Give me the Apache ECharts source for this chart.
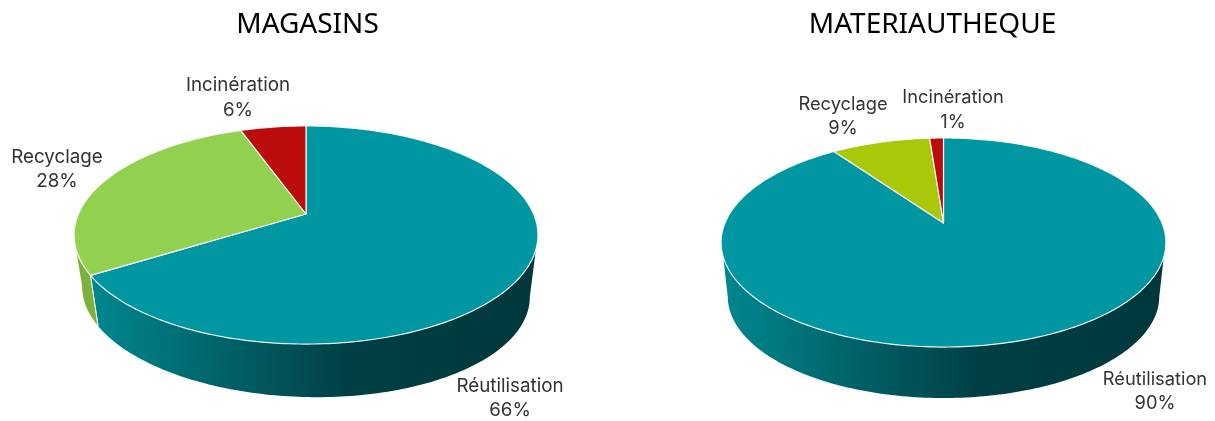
<!DOCTYPE html>
<html>
<head>
<meta charset="utf-8">
<script src="https://cdn.jsdelivr.net/npm/echarts@6/dist/echarts.min.js"></script>
<style>html,body{margin:0;padding:0;background:#fff}#c{width:1215px;height:421px}</style>
</head>
<body>
<div id="c"></div>
<script>
// ---- data ----
const categories = ['Réutilisation', 'Recyclage', 'Incinération'];
const magasinsValues = [66.2, 28.3, 5.5];
const materiauthequeValues = [90.2, 8.6, 1.2];
const pieTitles = ['MAGASINS', 'MATERIAUTHEQUE'];

// ---- styles ----
const magasinsColors = ['#0097A2', '#92D050', '#BC0D0D'];
const materiauthequeColors = ['#0097A2', '#AAC80A', '#BC0D0D'];
const magasinsSides = ['teal', '#7DB03C', '#8C0A0A'];
const materiauthequeSides = ['teal', '#7F9608', '#8C0A0A'];
const TEAL_SIDE = {type:'linear',x:0,y:0,x2:1,y2:0,global:false,colorStops:[
  {offset:0,color:'#00878F'},{offset:0.58,color:'#003F44'},{offset:1,color:'#00383C'}]};

// ---- layout: perspective of each disc ----
const magasinsView = {x0:306, y0:214, r:227.6, a:105, k:0.1927, cyTop:235, cyBot:291.8, s:0.965, skew:0.022, font:18.8};
const materiauthequeView = {x0:943.5, y0:223, r:218.5, a:100.9, k:0.1866, cyTop:242.5, cyBot:296.6, s:0.97, skew:0, font:18.3};
const magasinsLabelAt = [[510,398.5],[57,169.5],[238,98]];
const materiauthequeLabelAt = [[1155,391.5],[843,116.5],[953,110]];
const SIDE_FROM = 108.5, SIDE_TO = 251.5, WIDE_FROM = 101, WIDE_TO = 259;

function rim(v, deg){
  const t = deg*Math.PI/180, cx = Math.sin(t), cy = -Math.cos(t), d = 1 - v.k*cy;
  return [v.x0 + v.r*cx/d, v.y0 + v.a*cy/d];
}
function low(v, p){
  return [v.x0 + v.s*(p[0]-v.x0), v.cyBot + v.s*(p[1]-v.cyTop) + v.skew*(p[0]-v.x0)];
}
function arc(v, a, b){
  const pts = [], n = Math.max(2, Math.ceil(Math.abs(b-a)));
  for(let i=0;i<=n;i++) pts.push(rim(v, a+(b-a)*i/n));
  return pts;
}
function pieSeries(values, colors, sides, view, labelAt){
  const total = values.reduce((s,x)=>s+x,0);
  return {
    type:'custom', coordinateSystem:'none', silent:true, clip:false,
    data: values.map((x,i)=>({name:categories[i], value:[x]})),
    renderItem(params, api){
      const i = params.dataIndex;
      const before = values.slice(0,i).reduce((s,x)=>s+x,0);
      const a = before/total*360, b = (before+api.value(0))/total*360;
      const kids = [];
      const from = Math.max(a,SIDE_FROM), to = Math.min(b,SIDE_TO);
      if(to>from){
        const top = arc(view,from,to);
        const lowFrom = a<=SIDE_FROM ? WIDE_FROM : from;
        const lowTo = b>=SIDE_TO ? WIDE_TO : to;
        const bottom = arc(view,lowFrom,lowTo).map(p=>low(view,p)).reverse();
        kids.push({type:'polygon', z2:1, shape:{points:top.concat(bottom)},
          style:{fill: sides[i]==='teal' ? TEAL_SIDE : sides[i]}});
        [a,b].forEach(e=>{
          if(e>=SIDE_FROM && e<=SIDE_TO){
            const p = rim(view,e), q = low(view,p);
            kids.push({type:'line', z2:2, shape:{x1:p[0],y1:p[1],x2:q[0],y2:q[1]},
              style:{stroke:'rgba(255,255,255,0.75)',lineWidth:1}});
          }
        });
      }
      kids.push({type:'polygon', z2:3, shape:{points:[[view.x0,view.y0]].concat(arc(view,a,b))},
        style:{fill:colors[i], stroke:'rgba(255,255,255,0.9)', lineWidth:1.2, lineJoin:'round'}});
      kids.push({type:'text', z2:4, style:{
        text: categories[i]+'\n'+Math.round(api.value(0))+'%',
        x:labelAt[i][0], y:labelAt[i][1], align:'center', verticalAlign:'middle',
        textAlign:'center', textVerticalAlign:'middle',
        fontFamily:'Inter', fontSize:view.font, lineHeight:24.5, fill:'#333333'}});
      return {type:'group', children:kids};
    }
  };
}
const chart = echarts.init(document.getElementById('c'), null, {renderer:'canvas'});
chart.setOption({
  animation:false,
  backgroundColor:'#ffffff',
  title:[
    {text:pieTitles[0], left:302.5, top:6, textAlign:'center',
     textStyle:{fontFamily:'Noto Sans', fontSize:28, fontWeight:'normal', color:'#000'}},
    {text:pieTitles[1], left:927.5, top:6, textAlign:'center',
     textStyle:{fontFamily:'Noto Sans', fontSize:28, fontWeight:'normal', color:'#000'}}
  ],
  series:[
    pieSeries(magasinsValues, magasinsColors, magasinsSides, magasinsView, magasinsLabelAt),
    pieSeries(materiauthequeValues, materiauthequeColors, materiauthequeSides, materiauthequeView, materiauthequeLabelAt)
  ]
});
</script>
</body>
</html>
